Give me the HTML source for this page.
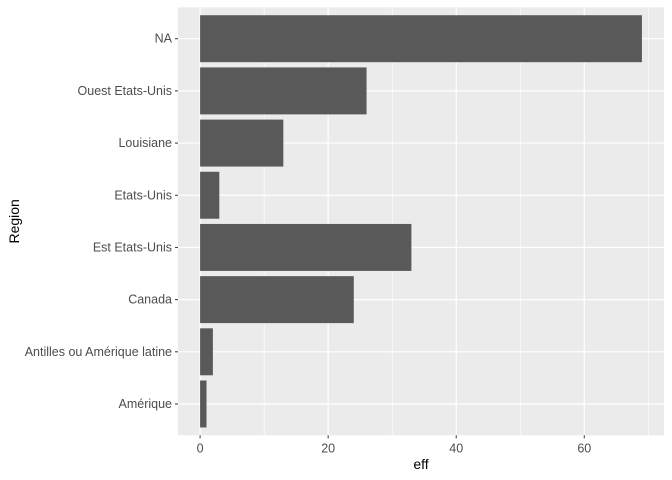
<!DOCTYPE html>
<html><head><meta charset="utf-8"><style>
html,body{margin:0;padding:0;background:#fff;}
svg{display:block;font-family:"Liberation Sans",Arial,sans-serif;}
</style></head><body>
<svg id="chart" width="672" height="480"></svg>
<script>
const categories=["NA","Ouest Etats-Unis","Louisiane","Etats-Unis","Est Etats-Unis","Canada","Antilles ou Amérique latine","Amérique"];
const values=[69,26,13,3,33,24,2,1];
const xTicks=[0,20,40,60];
const xMinorTicks=[10,30,50,70];

const NS="http://www.w3.org/2000/svg";
const svg=document.getElementById('chart');
const panel={left:178,right:664,top:7.4,bottom:435.3};
const xMin=-3.45,xMax=72.45;
function x(v){return panel.left+(v-xMin)/(xMax-xMin)*(panel.right-panel.left);}
const band=(panel.bottom-panel.top)/(categories.length-1+1.2);
function y(i){return panel.top+band*(0.6+i);}
function el(tag,attrs,parent){const e=document.createElementNS(NS,tag);for(const k in attrs)e.setAttribute(k,attrs[k]);(parent||svg).appendChild(e);return e;}

const bg=el('rect',{x:panel.left,y:panel.top,width:panel.right-panel.left,height:panel.bottom-panel.top,fill:'#ebebeb'});



xMinorTicks.forEach(t=>{
  const l=el('line',{x1:x(t),x2:x(t),y1:panel.top,y2:panel.bottom,stroke:'#fff','stroke-width':0.6});
  
  
});
xTicks.forEach(t=>{
  const l=el('line',{x1:x(t),x2:x(t),y1:panel.top,y2:panel.bottom,stroke:'#fff','stroke-width':1.2});
  
  
});
categories.forEach((c,i)=>{
  const l=el('line',{x1:panel.left,x2:panel.right,y1:y(i),y2:y(i),stroke:'#fff','stroke-width':1.2});
  
  
});
categories.forEach((c,i)=>{
  const h=band*0.9;
  const r=el('rect',{x:x(0),y:y(i)-h/2,width:x(values[i])-x(0),height:h,fill:'#595959'});
  
  
  const tk=el('line',{x1:panel.left-3,x2:panel.left,y1:y(i),y2:y(i),stroke:'#333','stroke-width':1});
  
  
  const t=el('text',{x:panel.left-6,y:y(i)+4,'text-anchor':'end','font-size':12.5,fill:'#4d4d4d'});
  t.textContent=c;
  
  
});
xTicks.forEach(v=>{
  const tk=el('line',{x1:x(v),x2:x(v),y1:panel.bottom,y2:panel.bottom+3,stroke:'#333','stroke-width':1});
  
  
  const t=el('text',{x:x(v),y:panel.bottom+17,'text-anchor':'middle','font-size':12.5,fill:'#4d4d4d'});
  t.textContent=v;
  
  
});
const xt=el('text',{x:(panel.left+panel.right)/2,y:469,'text-anchor':'middle','font-size':14,fill:'#000'});
xt.textContent='eff';


const yt=el('text',{x:0,y:0,transform:'translate(19,'+((panel.top+panel.bottom)/2)+') rotate(-90)','text-anchor':'middle','font-size':14,fill:'#000'});
yt.textContent='Region';


</script>
</body></html>
